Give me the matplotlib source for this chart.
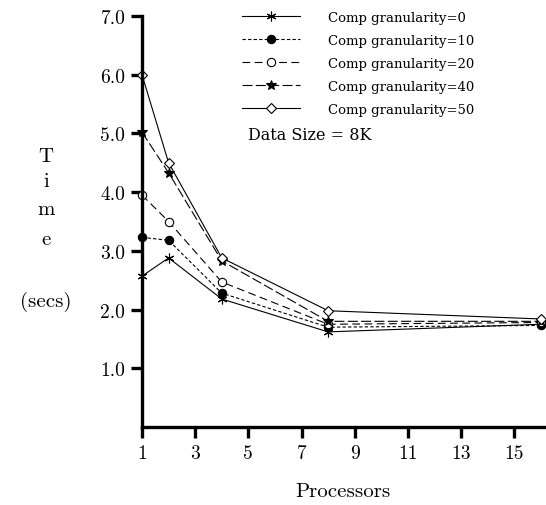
import matplotlib
matplotlib.use("Agg")
import matplotlib.pyplot as plt

processors = [1, 2, 4, 8, 16]
gran0 = [2.57, 2.88, 2.18, 1.62, 1.75]
gran10 = [3.23, 3.18, 2.28, 1.70, 1.73]
gran20 = [3.95, 3.50, 2.47, 1.75, 1.78]
gran40 = [5.02, 4.33, 2.83, 1.80, 1.80]
gran50 = [6.00, 4.50, 2.88, 1.98, 1.84]
labels = ["Comp granularity=0", "Comp granularity=10", "Comp granularity=20",
          "Comp granularity=40", "Comp granularity=50"]
xticks = [1, 3, 5, 7, 9, 11, 13, 15]
yticks = [1, 2, 3, 4, 5, 6, 7]

plt.rcParams['font.family'] = ['cmr10', 'DejaVu Serif']
plt.rcParams['axes.formatter.use_mathtext'] = True

fig = plt.figure(figsize=(5.46, 5.06), dpi=100)
ax = fig.add_axes([142/546, 78/506, 402/546, 411/506])

styles = [
    dict(ls='-', marker=(6, 2, 0), mfc='black', ms=7),
    dict(ls=(0, (3, 2)), marker='o', mfc='black', ms=6),
    dict(ls=(0, (7, 4)), marker='o', mfc='white', ms=6),
    dict(ls=(0, (9, 3)), marker='*', mfc='black', ms=7.5),
    dict(ls='-', marker='D', mfc='white', ms=5),
]
series = [gran0, gran10, gran20, gran40, gran50]
for ys, lab, st in zip(series, labels, styles):
    ax.plot(processors, ys, color='black', lw=0.8, mec='black', mew=0.8,
            label=lab, clip_on=False, **st)

ax.set_xlim(1, 16.12)
ax.set_ylim(0, 7)
ax.set_xticks(xticks)
ax.set_yticks(yticks)
ax.set_xticklabels([str(v) for v in xticks])
ax.set_yticklabels([f"{v:.1f}" for v in yticks])
for s in ['top', 'right']:
    ax.spines[s].set_visible(False)
for s in ['left', 'bottom']:
    ax.spines[s].set_linewidth(2.4)
ax.tick_params(axis='both', direction='out', length=8, width=2.4, labelsize=14, pad=4)

ax.set_xlabel("Processors", fontsize=15, labelpad=15)

ylab = ["T", "i", "m", "e", "", "(secs)"]
ypos = [157, 182, 210, 240, 0, 302]
for t, yp in zip(ylab, ypos):
    if t:
        fig.text(46/546, 1 - yp/506, t, ha='center', va='center', fontsize=15)

leg = ax.legend(loc='upper left', bbox_to_anchor=(238/546, 1 - 8/506),
                bbox_transform=fig.transFigure, frameon=False,
                prop={'family': 'DejaVu Serif', 'size': 9.5},
                handlelength=4.4, handletextpad=2.1, labelspacing=0.75,
                borderaxespad=0, borderpad=0.3)
fig.text(248/546, 1 - 136/506, "Data Size = 8K", ha='left', va='center',
         fontsize=11.5, family='DejaVu Serif')

fig.savefig("out.png", dpi=100)
